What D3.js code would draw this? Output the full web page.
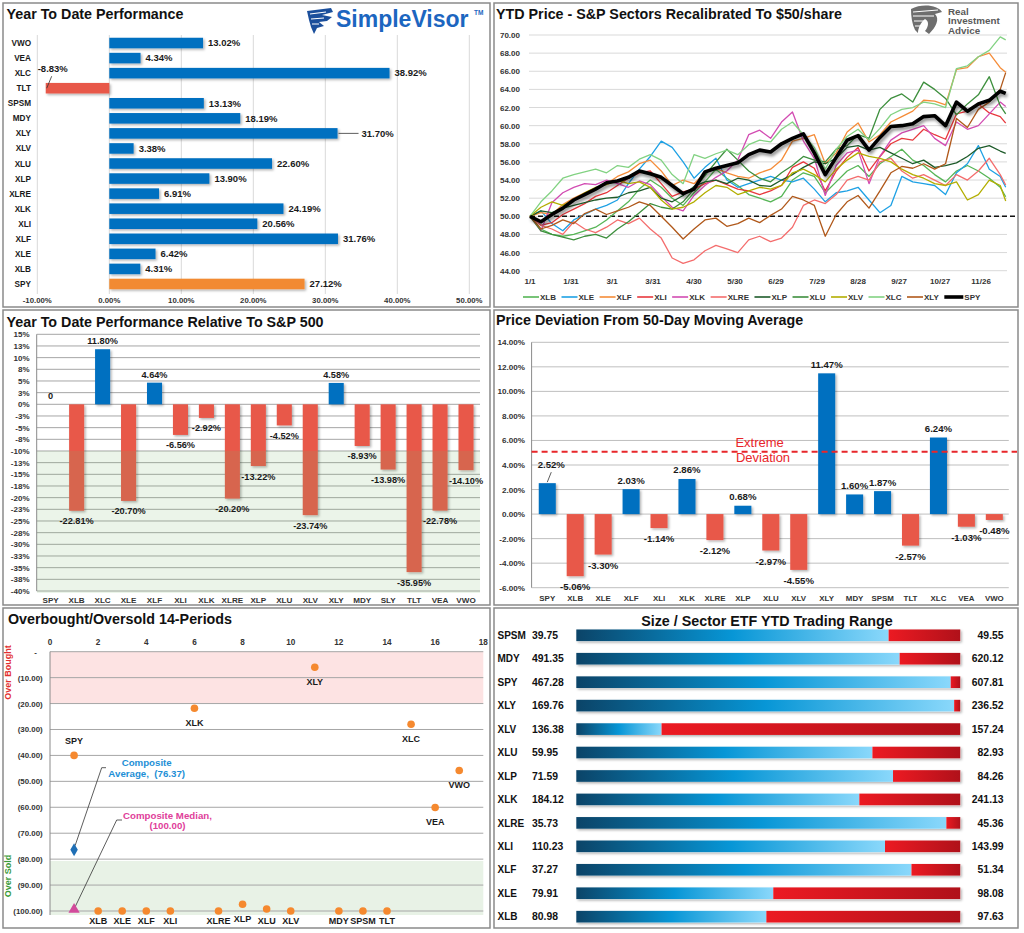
<!DOCTYPE html>
<html>
<head>
<meta charset="utf-8">
<style>
  body { margin: 0; background: #fff; }
  svg { display: block; font-family: "Liberation Sans", Arial, sans-serif; }
  .ttl { font-weight: bold; fill: #111; font-size: 14.3px; }
  .lab { font-weight: bold; fill: #1a1a1a; }
  .frame { fill: none; stroke: #8a8a8a; stroke-width: 1.5; }
</style>
</head>
<body>
<script src="https://cdn.jsdelivr.net/npm/d3@7"></script>
<script>
// ---------- data ----------
// year to date performance (top left)
var ytdNames = ["VWO","VEA","XLC","TLT","SPSM","MDY","XLY","XLV","XLU","XLP","XLRE","XLK","XLI","XLF","XLE","XLB","SPY"];
var ytdVals = [13.02,4.34,38.92,-8.83,13.13,18.19,31.70,3.38,22.60,13.90,6.91,24.19,20.56,31.76,6.42,4.31,27.12];
var ytdTicks = [-10,0,10,20,30,40,50];

// sector prices rebased to $50 (top right), sampled every 8 days from 1/1
var lineDays = [0,8,16,24,32,40,48,56,64,72,80,88,96,104,112,120,128,136,144,152,160,168,176,184,192,200,208,216,224,232,240,248,256,264,272,280,288,296,304,312,320,328,336,344,348];
var xlb = [50.0,48.6,48.0,47.8,48.0,48.4,48.8,49.6,50.6,51.6,53.0,54.0,53.2,52.0,51.2,52.6,53.8,55.2,54.2,53.4,52.4,52.0,51.6,52.2,54.0,54.8,54.4,52.6,53.8,55.0,55.6,54.4,55.8,56.6,57.4,56.2,55.6,54.6,53.8,55.0,55.6,55.0,54.2,53.2,52.16];
var xle = [50.0,50.6,49.2,48.4,49.6,50.2,50.8,51.2,51.8,53.6,55.2,56.6,58.3,57.6,56.0,54.2,55.4,56.4,54.0,53.2,53.6,54.0,54.4,54.0,53.8,54.2,53.0,51.6,52.6,52.8,53.2,51.8,50.4,51.2,54.4,53.8,53.6,53.4,52.4,54.8,55.8,57.8,55.2,54.4,53.21];
var xlf = [50.0,50.4,50.2,51.3,52.0,52.6,53.1,53.6,54.4,54.9,55.8,56.2,55.0,53.4,54.0,53.6,54.8,55.3,54.8,54.4,54.2,54.8,55.2,56.2,58.3,58.6,59.0,55.8,57.0,59.3,60.3,58.2,59.0,60.4,61.0,61.6,62.8,62.7,62.3,66.2,66.4,67.6,68.0,66.4,65.88];
var xli = [50.0,49.0,49.3,50.2,50.8,51.4,52.2,52.6,53.4,54.2,54.8,55.0,53.6,52.2,52.7,53.0,53.6,54.0,53.5,53.0,52.8,52.4,52.8,53.4,55.4,56.0,55.3,52.8,55.0,56.5,57.6,55.0,56.6,58.0,58.6,58.4,59.6,59.0,58.5,61.3,61.6,62.4,61.4,61.0,60.28];
var xlk = [50.0,48.4,51.5,52.6,53.2,53.6,53.5,54.0,53.6,53.2,53.9,53.5,52.2,51.0,50.6,52.3,53.4,54.3,55.0,56.2,59.0,59.5,58.6,60.4,61.5,58.3,56.4,52.3,55.6,57.0,57.3,53.6,56.6,58.4,59.2,59.6,60.0,58.6,57.8,60.4,59.6,60.0,61.3,62.6,62.1];
var xlre = [50.0,49.0,48.6,48.0,49.4,48.6,48.2,48.8,49.6,49.2,49.8,48.6,47.6,45.4,44.8,45.2,46.2,46.8,46.4,46.0,47.4,47.8,47.2,47.6,48.8,51.2,51.8,51.4,52.4,54.0,54.4,54.0,56.0,56.4,55.0,54.2,54.6,54.0,53.4,54.6,54.0,55.0,56.4,54.6,53.46];
var xlp = [50.0,50.6,50.4,50.9,51.2,51.5,51.8,52.0,52.1,52.6,52.8,53.2,52.0,51.6,52.3,53.3,53.8,54.0,53.6,54.2,54.0,53.4,53.3,54.0,54.6,55.4,56.0,55.8,56.4,57.6,57.8,57.3,57.6,57.0,56.4,55.8,56.2,55.4,55.6,55.9,56.6,57.5,57.8,57.2,56.95];
var xlu = [50.0,48.4,48.0,47.7,47.4,47.8,48.0,47.6,48.6,49.4,50.4,51.4,51.0,50.8,51.6,53.0,54.5,56.0,57.4,56.2,55.0,54.2,53.8,54.8,55.6,56.6,56.2,56.0,57.4,57.8,59.0,58.6,61.8,63.0,63.5,62.6,64.8,64.0,63.0,61.2,62.4,63.4,65.4,62.2,61.3];
var xlv = [50.0,51.0,51.6,51.2,51.8,52.6,53.2,53.5,54.0,53.6,53.8,53.2,51.8,50.8,51.0,51.6,52.6,53.4,53.2,52.4,52.8,53.2,53.0,53.4,54.8,55.2,54.6,53.8,55.2,56.2,57.0,56.6,56.4,56.0,55.2,54.6,54.2,53.6,53.4,53.8,51.8,52.4,54.0,53.4,51.69];
var xlc = [50.0,51.6,52.8,54.2,54.6,54.9,55.2,54.8,55.6,55.4,56.3,56.8,56.2,54.6,53.6,56.8,56.4,56.9,57.3,56.8,57.9,58.4,58.2,59.6,60.4,59.0,57.6,55.2,57.4,58.8,59.6,58.4,59.7,61.2,61.8,62.0,62.6,62.4,62.0,66.3,66.6,67.6,68.3,69.8,69.46];
var xly = [50.0,48.6,49.0,49.6,49.2,50.3,50.8,50.2,50.6,51.0,51.6,51.2,50.0,48.8,47.5,48.6,49.6,49.8,48.9,49.2,49.8,49.3,50.1,50.8,52.2,51.8,51.2,47.8,50.2,51.6,52.3,50.9,52.8,54.8,55.5,55.3,55.8,55.2,55.8,60.8,59.8,61.8,62.6,64.0,65.85];
var spy = [50.0,49.4,50.2,50.9,51.8,52.4,53.0,53.7,53.9,54.3,55.0,54.7,54.3,53.4,52.5,53.0,54.9,55.3,55.6,55.9,56.8,57.3,57.1,58.0,58.6,59.1,57.0,54.6,56.5,58.4,58.9,57.3,58.7,59.9,60.0,60.2,61.0,61.1,60.0,62.6,61.6,62.4,62.8,63.8,63.56];
var seriesNames = ["XLB","XLE","XLF","XLI","XLK","XLRE","XLP","XLU","XLV","XLC","XLY","SPY"];
var seriesVals = [xlb,xle,xlf,xli,xlk,xlre,xlp,xlu,xlv,xlc,xly,spy];
var seriesColors = ["#56b556","#1ea1e4","#f58c38","#e8383d","#d24cb2","#f46d6d","#1e5b2a","#3d8f3d","#b3ae00","#82d282","#b0581a","#000000"];
var priceTicks = [44,46,48,50,52,54,56,58,60,62,64,66,68,70];
var dateTickDays = [0,30,60,90,120,150,180,210,240,270,300,330];
var baseLine = 50;

// performance relative to S&P 500 (middle left)
var relNames = ["SPY","XLB","XLC","XLE","XLF","XLI","XLK","XLRE","XLP","XLU","XLV","XLY","MDY","SLY","TLT","VEA","VWO"];
var relVals = [0,-22.81,11.80,-20.70,4.64,-6.56,-2.92,-20.20,-13.22,-4.52,-23.74,4.58,-8.93,-13.98,-35.95,-22.78,-14.10];
var relTicks = [15,12.5,10,7.5,5,2.5,0,-2.5,-5,-7.5,-10,-12.5,-15,-17.5,-20,-22.5,-25,-27.5,-30,-32.5,-35,-37.5,-40];
var relZone = -10;

// deviation from 50-day moving average (middle right)
var devNames = ["SPY","XLB","XLE","XLF","XLI","XLK","XLRE","XLP","XLU","XLV","XLY","MDY","SPSM","TLT","XLC","VEA","VWO"];
var devVals = [2.52,-5.06,-3.30,2.03,-1.14,2.86,-2.12,0.68,-2.97,-4.55,11.47,1.60,1.87,-2.57,6.24,-1.03,-0.48];
var devTicks = [14,12,10,8,6,4,2,0,-2,-4,-6];
var devExtreme = 5.08;

// overbought / oversold (bottom left)
var obNames = ["SPY","XLB","XLE","XLF","XLI","XLK","XLRE","XLP","XLU","XLV","XLY","MDY","SPSM","TLT","XLC","VEA","VWO"];
var obX = [1,2,3,4,5,6,7,8,9,10,11,12,13,14,15,16,17];
var obVals = [40.0,100,100,100,100,21.8,100,97.4,99.2,100,6.0,100,100,100,28.0,60.1,45.8];
var obXTicks = [0,2,4,6,8,10,12,14,16,18];
var obYTicks = [0,10,20,30,40,50,60,70,80,90,100];

// trading range (bottom right)
var rngNames = ["SPSM","MDY","SPY","XLY","XLV","XLU","XLP","XLK","XLRE","XLI","XLF","XLE","XLB"];
var rngLow = [39.75,491.35,467.28,169.76,136.38,59.95,71.59,184.12,35.73,110.23,37.27,79.91,80.98];
var rngHigh = [49.55,620.12,607.81,236.52,157.24,82.93,84.26,241.13,45.36,143.99,51.34,98.08,97.63];
var rngLast = [47.72,599.77,604.30,235.45,141.01,77.67,82.04,226.14,45.01,137.37,49.55,89.23,89.22];

// ---------- setup ----------
var blue = "#0070c0", red = "#e8594a", orange = "#f28a30";
var svg = d3.select("body").append("svg").attr("width", 1024).attr("height", 933);
var defs = svg.append("defs");
defs.append("filter").attr("id", "sh").attr("x", "-20%").attr("y", "-20%").attr("width", "150%").attr("height", "170%")
  .append("feDropShadow").attr("dx", 1.5).attr("dy", 1.5).attr("stdDeviation", 0.8)
  .attr("flood-color", "#000").attr("flood-opacity", 0.3);
defs.append("filter").attr("id", "shSpy").attr("x", "-5%").attr("y", "-20%").attr("width", "110%").attr("height", "150%")
  .append("feDropShadow").attr("dx", 1.5).attr("dy", 2.5).attr("stdDeviation", 1.8)
  .attr("flood-color", "#000").attr("flood-opacity", 0.45);
var gb = defs.append("linearGradient").attr("id", "gBlue");
gb.append("stop").attr("offset", "0%").attr("stop-color", "#0b4468");
gb.append("stop").attr("offset", "50%").attr("stop-color", "#0796d6");
gb.append("stop").attr("offset", "100%").attr("stop-color", "#8ad8fb");
var gr = defs.append("linearGradient").attr("id", "gRed");
gr.append("stop").attr("offset", "0%").attr("stop-color", "#ec1a22");
gr.append("stop").attr("offset", "100%").attr("stop-color", "#b0111a");

function label(g, x, y, s, size, anchor, color) {
  return g.append("text").attr("class", "lab").attr("x", x).attr("y", y)
    .attr("text-anchor", anchor || "middle").style("font-size", size + "px")
    .style("fill", color || "#1a1a1a").text(s);
}
function pct(v) { return v.toFixed(2) + "%"; }

// ---------- panel 1: Year To Date Performance ----------
(function () {
  var g = svg.append("g");
  var x = d3.scaleLinear().domain([-10, 50]).range([37.3, 469.3]);
  var y = d3.scaleBand().domain(ytdNames).range([35.5, 291.5]).paddingInner(0.3).paddingOuter(0.15);

  g.selectAll(".grid").data(ytdTicks).enter().append("line")
    .attr("x1", x).attr("x2", x).attr("y1", 35).attr("y2", 294)
    .attr("stroke", "#d9d9d9").attr("stroke-width", 1);
  ytdTicks.forEach(function (t) { label(g, x(t), 303, pct(t), 7.8, "middle", "#333"); });

  g.selectAll(".bar").data(ytdNames).enter().append("rect")
    .attr("x", function (d, i) { return x(Math.min(0, ytdVals[i])); })
    .attr("width", function (d, i) { return Math.abs(x(ytdVals[i]) - x(0)); })
    .attr("y", function (d) { return y(d); })
    .attr("height", y.bandwidth())
    .attr("fill", function (d, i) { return d === "SPY" ? orange : ytdVals[i] < 0 ? red : blue; })
    .attr("filter", "url(#sh)");

  ytdNames.forEach(function (d, i) {
    var cy = y(d) + y.bandwidth() / 2, v = ytdVals[i];
    label(g, 31, cy + 3, d, 8.2, "end");
    if (v < 0) {
      label(g, 37.7, cy - 16.5, pct(v), 9.5, "start");
      g.append("line").attr("x1", 51.7).attr("y1", cy - 12).attr("x2", x(v) + 1).attr("y2", cy)
        .attr("stroke", "#333").attr("stroke-width", 0.8);
    } else if (d === "XLY") {
      g.append("line").attr("x1", x(v) + 1).attr("x2", x(v) + 21).attr("y1", cy).attr("y2", cy)
        .attr("stroke", "#333").attr("stroke-width", 0.8);
      label(g, x(v) + 24, cy + 3.3, pct(v), 9.5, "start");
    } else {
      label(g, x(v) + 5, cy + 3.3, pct(v), 9.5, "start");
    }
  });
  svg.append("text").attr("class", "ttl").attr("x", 6.5).attr("y", 18.5).text("Year To Date Performance");

  // SimpleVisor logo
  var lg = svg.append("g");
  lg.append("path").attr("d", "M307,11 L331,8 L333,12 L322,15 L332,17 L327,21 L319,22 L324,26 L317,28 L314,34 L311,27 L309,20 Z")
    .attr("fill", "#1b4f9c");
  lg.append("path").attr("d", "M310,14 L326,12 M311,19 L324,18 M312,24 L319,24").attr("stroke", "#fff").attr("stroke-width", 1.2);
  lg.append("text").attr("x", 336).attr("y", 27).style("font-size", "23px").style("font-weight", "bold")
    .style("fill", "#1c66c0").text("SimpleVisor");
  lg.append("text").attr("x", 474).attr("y", 15).style("font-size", "6.5px").style("font-weight", "bold")
    .style("fill", "#1c66c0").text("TM");
})();

// ---------- panel 2: YTD Price rebased ----------
(function () {
  var g = svg.append("g");
  var x = d3.scaleLinear().domain([0, 348]).range([530, 1005.7]);
  var y = d3.scaleLinear().domain([44, 70]).range([270.7, 35]);
  var start = new Date(2024, 0, 1), fmt = d3.timeFormat("%-m/%-d");

  priceTicks.forEach(function (t) {
    g.append("line").attr("x1", 529).attr("x2", 1007).attr("y1", y(t)).attr("y2", y(t))
      .attr("stroke", "#d9d9d9").attr("stroke-width", 1);
    label(g, 520, y(t) + 3, t.toFixed(2), 8, "end", "#333");
  });
  dateTickDays.forEach(function (d) {
    label(g, x(d), 284, fmt(d3.timeDay.offset(start, d)), 8, "middle", "#333");
  });
  g.append("line").attr("x1", 530).attr("x2", 1016).attr("y1", y(baseLine)).attr("y2", y(baseLine))
    .attr("stroke", "#111").attr("stroke-width", 1.6).attr("stroke-dasharray", "5,3");

  var line = d3.line().x(function (d, i) { return x(lineDays[i]); }).y(function (d) { return y(d); });
  seriesVals.forEach(function (vals, k) {
    var isSpy = seriesNames[k] === "SPY";
    g.append("path").attr("d", line(vals)).attr("fill", "none")
      .attr("stroke", seriesColors[k]).attr("stroke-width", isSpy ? 3.6 : 1.3)
      .attr("stroke-linejoin", "round")
      .attr("filter", isSpy ? "url(#shSpy)" : null);
  });

  // legend
  var lx = 523, ly = 297;
  seriesNames.forEach(function (n, k) {
    var isSpy = n === "SPY";
    var len = isSpy ? 19 : 16;
    g.append("line").attr("x1", lx).attr("x2", lx + len).attr("y1", ly).attr("y2", ly)
      .attr("stroke", seriesColors[k]).attr("stroke-width", isSpy ? 3.6 : 1.6);
    var t = label(g, lx + len + 1, ly + 3, n, 8, "start", "#333");
    lx += len + 1 + t.node().getComputedTextLength() + 5.5;
  });

  svg.append("text").attr("class", "ttl").attr("x", 496).attr("y", 19).text("YTD Price - S&P Sectors Recalibrated To $50/share");

  // Real Investment Advice logo
  var lg = svg.append("g");
  lg.append("path").attr("d", "M911,9 C922,3 938,5 942,12 L935,14 C940,19 936,27 929,34 L925,31 C929,26 929,21 925,19 C921,22 918,28 918,33 L915,30 C912,24 911,16 911,9 Z")
    .attr("fill", "#6e6e6e");
  lg.append("path").attr("d", "M913,12 L938,10 M913,16 L934,16 M914,21 L924,21 M915,26 L920,26")
    .attr("stroke", "#fff").attr("stroke-width", 1);
  ["Real", "Investment", "Advice"].forEach(function (s, i) {
    lg.append("text").attr("x", 948).attr("y", 14.5 + i * 9.7).style("font-size", "9.8px")
      .style("font-weight", "bold").style("fill", "#5a5a5a").text(s);
  });
})();

// ---------- panel 3: Relative to S&P 500 ----------
(function () {
  var g = svg.append("g");
  var x = d3.scaleBand().domain(relNames).range([37.7, 479]).paddingInner(0.42).paddingOuter(0.21);
  var y = d3.scaleLinear().domain([-40, 15]).range([591, 334.3]);
  function tickFmt(v) { return (v < 0 ? "-" : "") + Math.round(Math.abs(v)) + "%"; }

  relTicks.forEach(function (t) {
    g.append("line").attr("x1", 36.7).attr("x2", 480).attr("y1", y(t)).attr("y2", y(t))
      .attr("stroke", "#a6a6a6").attr("stroke-width", 1);
    label(g, 29.5, y(t) + 3, tickFmt(t), 8, "end", "#333");
  });
  g.append("line").attr("x1", 36.7).attr("x2", 36.7).attr("y1", y(15)).attr("y2", y(-40))
    .attr("stroke", "#8a8a8a");

  g.selectAll(".bar").data(relNames).enter().append("rect")
    .attr("x", function (d) { return x(d); })
    .attr("width", x.bandwidth())
    .attr("y", function (d, i) { return y(Math.max(0, relVals[i])); })
    .attr("height", function (d, i) { return Math.abs(y(relVals[i]) - y(0)); })
    .attr("fill", function (d, i) { return relVals[i] > 0 ? blue : red; })
    .attr("filter", "url(#sh)");

  g.append("rect").attr("x", 37).attr("y", y(relZone)).attr("width", 443).attr("height", y(-40) - y(relZone) + 2)
    .attr("fill", "rgb(120,180,110)").attr("opacity", 0.15);

  relNames.forEach(function (d, i) {
    var cx = x(d) + x.bandwidth() / 2, v = relVals[i];
    label(g, cx, 603, d, 8.1, "middle", "#333");
    if (v > 0) label(g, cx, y(v) - 5, pct(v), 9.2);
    else if (v === 0) label(g, cx, y(0) - 5, "0", 9.2);
    else label(g, cx, y(v) + 13.5, pct(v), 9.2);
  });
  svg.append("text").attr("class", "ttl").attr("x", 6.5).attr("y", 326.5).text("Year To Date Performance Relative To S&P 500");
})();

// ---------- panel 4: Deviation from 50-DMA ----------
(function () {
  var g = svg.append("g");
  var x = d3.scaleBand().domain(devNames).range([533.3, 1008.3]).paddingInner(0.39).paddingOuter(0.195);
  var y = d3.scaleLinear().domain([-6, 14]).range([587.7, 342.3]);

  devTicks.forEach(function (t) {
    g.append("line").attr("x1", 531.6).attr("x2", 1008.8).attr("y1", y(t)).attr("y2", y(t))
      .attr("stroke", "#bfbfbf").attr("stroke-width", 1);
    label(g, 525, y(t) + 3, pct(t), 8.1, "end", "#333");
  });
  g.append("line").attr("x1", 531.6).attr("x2", 531.6).attr("y1", y(14)).attr("y2", y(-6)).attr("stroke", "#8a8a8a");

  g.selectAll(".bar").data(devNames).enter().append("rect")
    .attr("x", function (d) { return x(d); })
    .attr("width", x.bandwidth())
    .attr("y", function (d, i) { return y(Math.max(0, devVals[i])); })
    .attr("height", function (d, i) { return Math.abs(y(devVals[i]) - y(0)); })
    .attr("fill", function (d, i) { return devVals[i] > 0 ? blue : red; })
    .attr("filter", "url(#sh)");

  g.append("line").attr("x1", 531.6).attr("x2", 1017).attr("y1", y(devExtreme)).attr("y2", y(devExtreme))
    .attr("stroke", "#e8262a").attr("stroke-width", 2).attr("stroke-dasharray", "6,4");
  g.append("text").attr("x", 759.6).attr("y", 447).attr("text-anchor", "middle").style("font-size", "13px")
    .style("fill", "#e8262a").text("Extreme");
  g.append("text").attr("x", 763).attr("y", 462).attr("text-anchor", "middle").style("font-size", "13px")
    .style("fill", "#e8262a").text("Deviation");

  devNames.forEach(function (d, i) {
    var cx = x(d) + x.bandwidth() / 2, v = devVals[i];
    label(g, cx, 601, d, 7.9, "middle", "#333");
    if (d === "SPY") {
      label(g, cx + 4, y(v) - 15, pct(v), 9.6);
      g.append("line").attr("x1", cx + 4).attr("y1", y(v) - 11).attr("x2", cx).attr("y2", y(v) - 1)
        .attr("stroke", "#333").attr("stroke-width", 0.8);
    } else if (v > 0) label(g, cx, y(v) - 5.5, pct(v), 9.6);
    else label(g, cx, y(v) + 14, pct(v), 9.6);
  });
  svg.append("text").attr("class", "ttl").attr("x", 496).attr("y", 324.5).text("Price Deviation From 50-Day Moving Average");
})();

// ---------- panel 5: Overbought / Oversold ----------
(function () {
  var g = svg.append("g");
  var x = d3.scaleLinear().domain([0, 18]).range([50, 483.3]);
  var y = d3.scaleLinear().domain([0, 100]).range([651.7, 911]);

  g.append("rect").attr("x", 50).attr("y", y(0)).attr("width", 433.3).attr("height", y(20) - y(0)).attr("fill", "#fde3e3");
  g.append("rect").attr("x", 50).attr("y", y(80.7)).attr("width", 433.3).attr("height", 915 - y(80.7)).attr("fill", "#e8f2e6");

  obYTicks.forEach(function (t) {
    g.append("line").attr("x1", 50).attr("x2", 483.3).attr("y1", y(t)).attr("y2", y(t))
      .attr("stroke", "#a6a6a6").attr("stroke-width", 1);
    label(g, t === 0 ? 37 : 42.7, y(t) + 3, t === 0 ? "-" : "(" + t.toFixed(2) + ")", 7.9, "end", "#333");
  });
  g.append("line").attr("x1", 50).attr("x2", 50).attr("y1", y(0)).attr("y2", 915).attr("stroke", "#8a8a8a");
  obXTicks.forEach(function (t) { label(g, x(t), 645, t, 8.2, "middle", "#333"); });

  g.append("text").attr("transform", "translate(11," + y(8) + ") rotate(-90)").attr("text-anchor", "middle")
    .style("font-size", "9px").style("font-weight", "bold").style("fill", "#e23030").text("Over Bought");
  g.append("text").attr("transform", "translate(11," + y(86.5) + ") rotate(-90)").attr("text-anchor", "middle")
    .style("font-size", "9px").style("font-weight", "bold").style("fill", "#3a9a3a").text("Over Sold");

  var avg = d3.mean(obVals), med = d3.median(obVals);
  var ax = x(1), ay = y(avg), my = y(med);
  g.append("polyline").attr("points", [[ax + 1, ay - 4], [101.7, 767.7], [106, 767.7]].join(" "))
    .attr("fill", "none").attr("stroke", "#333").attr("stroke-width", 0.8);
  g.append("polyline").attr("points", [[ax + 1, my - 4], [116.7, 820], [122, 820]].join(" "))
    .attr("fill", "none").attr("stroke", "#333").attr("stroke-width", 0.8);

  g.selectAll(".pt").data(obNames).enter().append("circle")
    .attr("cx", function (d, i) { return x(obX[i]); })
    .attr("cy", function (d, i) { return y(obVals[i]); })
    .attr("r", 3.8).attr("fill", "#f5892f");
  obNames.forEach(function (d, i) {
    var py = y(obVals[i]);
    var ly = d === "SPY" ? py - 11 : Math.min(py + 17.5, 924);
    label(g, x(obX[i]), ly, d, 9);
  });

  g.append("path").attr("transform", "translate(" + ax + "," + ay + ")")
    .attr("d", d3.symbol(d3.symbolDiamond, 48)()).attr("fill", "#1f6fb5");
  g.append("path").attr("transform", "translate(" + ax + "," + (my - 1.5) + ")")
    .attr("d", d3.symbol(d3.symbolTriangle, 55)()).attr("fill", "#d24b9b");

  label(g, 146.7, 765.7, "Composite", 9.7, "middle", "#1e8fd6");
  label(g, 146.7, 777.2, "Average,\u00a0\u00a0(" + avg.toFixed(2) + ")", 9.7, "middle", "#1e8fd6");
  label(g, 167.5, 818.5, "Composite Median,", 9.7, "middle", "#e0409a");
  label(g, 167.5, 829.2, "(" + med.toFixed(2) + ")", 9.7, "middle", "#e0409a");

  svg.append("text").attr("class", "ttl").attr("x", 8).attr("y", 624).text("Overbought/Oversold 14-Periods");
})();

// ---------- panel 6: Trading range ----------
(function () {
  var g = svg.append("g");
  var y = d3.scalePoint().domain(rngNames).range([635.3, 916.7]);
  var bh = 11.7, x0 = 576.3, x1 = 960.3;

  rngNames.forEach(function (d, i) {
    var cy = y(d);
    var pos = d3.scaleLinear().domain([rngLow[i], rngHigh[i]]).range([x0, x1]);
    var split = pos(rngLast[i]);
    g.append("rect").attr("x", x0).attr("y", cy - bh / 2).attr("width", x1 - x0).attr("height", bh)
      .attr("fill", "#fff").attr("filter", "url(#sh)");
    g.append("rect").attr("x", x0).attr("y", cy - bh / 2).attr("width", split - x0).attr("height", bh)
      .attr("fill", "url(#gBlue)");
    g.append("rect").attr("x", split).attr("y", cy - bh / 2).attr("width", x1 - split).attr("height", bh)
      .attr("fill", "url(#gRed)");
    label(g, 497.5, cy + 3.6, d, 10, "start", "#111");
    label(g, 532, cy + 3.6, rngLow[i].toFixed(2), 10.4, "start", "#111");
    label(g, 1003.6, cy + 3.6, rngHigh[i].toFixed(2), 10.4, "end", "#111");
  });
  svg.append("text").attr("class", "ttl").attr("x", 767).attr("y", 626).attr("text-anchor", "middle")
    .text("Size / Sector ETF YTD Trading Range");
})();

// ---------- panel frames ----------
[[3, 3, 487, 304], [494, 3, 524, 304], [3, 310, 487, 295], [494, 310, 524, 295], [3, 608, 487, 320], [494, 608, 524, 320]]
  .forEach(function (r) {
    svg.append("rect").attr("class", "frame").attr("x", r[0]).attr("y", r[1]).attr("width", r[2]).attr("height", r[3]);
  });
</script>
</body>
</html>
